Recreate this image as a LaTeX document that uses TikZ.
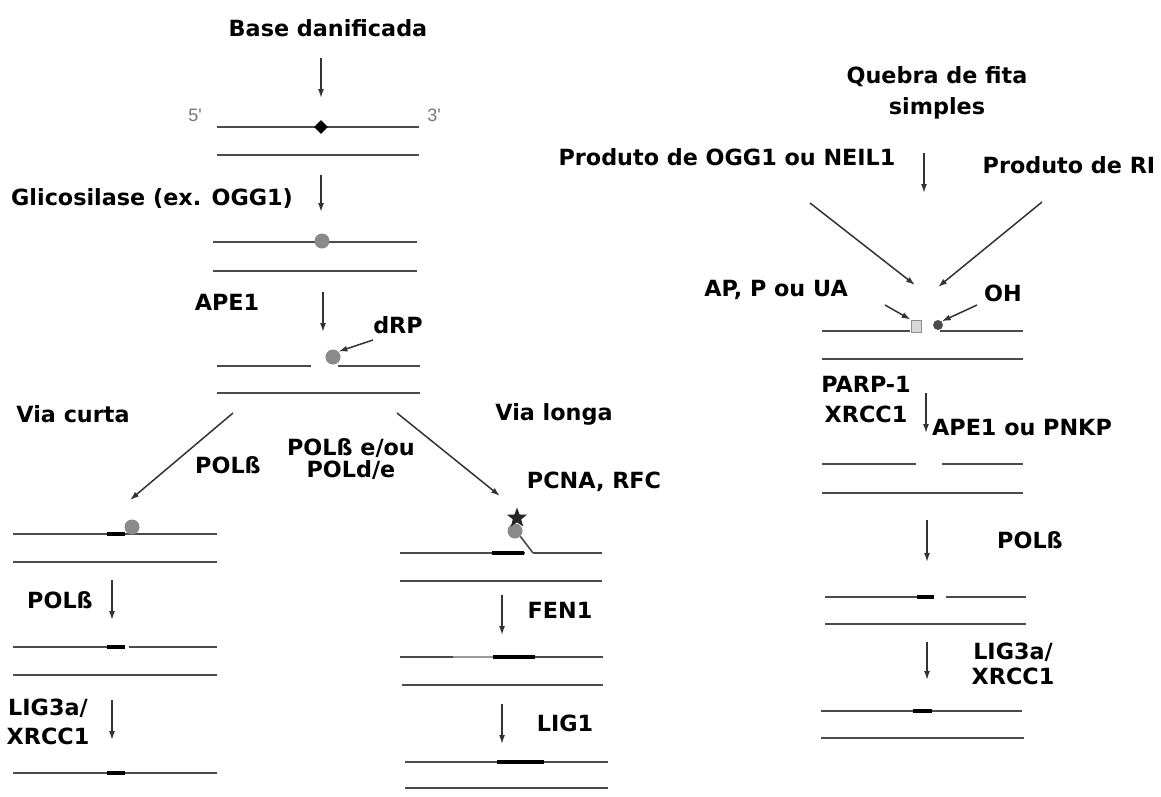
\documentclass[tikz,border=0pt]{standalone}
\usepackage{fontspec}
\setmainfont{DejaVu Sans}
\newfontfamily\primefont{Liberation Sans}
\usetikzlibrary{arrows.meta,shapes.geometric}
\definecolor{strandgray}{HTML}{4A4A4A}
\definecolor{arrowgray}{HTML}{333333}
\definecolor{dotgray}{HTML}{8A8A8A}
\definecolor{sqgray}{HTML}{D8D8D8}
\definecolor{primegray}{HTML}{777777}
\newcommand\lblfont{\fontsize{22.3}{30}\selectfont\bfseries}
\tikzset{
  strand/.style={draw=strandgray, line width=1.6pt},
  patch/.style={draw=black, line width=4.5pt},
  lightpatch/.style={draw=black!40, line width=1.5pt},
  arr/.style={draw=arrowgray, line width=1.5pt, -{Latex[length=9pt,width=6pt]}},
  lbl/.style={font=\lblfont, text=black, align=center, inner sep=0pt},
  prime/.style={font=\primefont\fontsize{18}{18}\selectfont, text=primegray, inner sep=0pt},
  gdot/.style={circle, fill=dotgray, inner sep=0pt, minimum size=15pt},
}
\begin{document}
\begin{tikzpicture}[x=1pt,y=-1pt]
\path[use as bounding box, fill=white] (0,0) rectangle (1161,796);

% ---------------- left / top column ----------------
\node[lbl] (base) at (328,28) {Base danificada};
\coordinate (a1s) at (321,58); \coordinate (a1e) at (321,98);
\draw[arr] (a1s) -- (a1e);
\node[prime] (p5) at (195,115) {5'};
\node[prime] (p3) at (434,115) {3'};
\draw[strand] (217,127) -- (419,127);
\node[diamond, fill=black, inner sep=0pt, minimum size=14pt] (dmg) at (321,127) {};
\draw[strand] (217,155) -- (419,155);

\node[lbl] (glic) at (152,198) {Glicosilase (ex. OGG1)};
\coordinate (a2s) at (321,175); \coordinate (a2e) at (321,212);
\draw[arr] (a2s) -- (a2e);
\draw[strand] (213,242) -- (417,242);
\node[gdot] (ap1) at (322,241) {};
\draw[strand] (213,271) -- (417,271);

\node[lbl] (ape1) at (227,302) {APE1};
\coordinate (a3s) at (323,292); \coordinate (a3e) at (323,332);
\draw[arr] (a3s) -- (a3e);
\node[lbl] (drp) at (398,325) {dRP};
\draw[strand] (217,366) -- (311,366);
\draw[strand] (338,366) -- (420,366);
\node[gdot] (drpdot) at (333,357) {};
\coordinate (drps) at (373,340);
\draw[arr] (drps) -- (drpdot.north east);
\draw[strand] (217,393) -- (420,393);

% ---------------- short path ----------------
\node[lbl] (viacurta) at (73,414) {Via curta};
\coordinate (scs) at (233,413); \coordinate (sce) at (130,500);
\draw[arr] (scs) -- (sce);
\node[lbl] (polb1) at (228,465) {POLß};
\draw[strand] (13,534) -- (217,534);
\draw[patch] (107,534) -- (125,534);
\node[gdot] (scdot) at (132,527) {};
\draw[strand] (13,562) -- (217,562);

\node[lbl] (polb2) at (60,600) {POLß};
\coordinate (a4s) at (112,580); \coordinate (a4e) at (112,620);
\draw[arr] (a4s) -- (a4e);
\draw[strand] (13,647) -- (125,647);
\draw[strand] (129,647) -- (217,647);
\draw[patch] (107,647) -- (125,647);
\draw[strand] (13,675) -- (217,675);

\node[lbl, font=\fontsize{22.3}{29}\selectfont\bfseries] (lig3l) at (48,722) {LIG3a/\\XRCC1};
\coordinate (a5s) at (112,700); \coordinate (a5e) at (112,740);
\draw[arr] (a5s) -- (a5e);
\draw[strand] (13,773) -- (217,773);
\draw[patch] (107,773) -- (125,773);

% ---------------- long path ----------------
\node[lbl] (vialonga) at (554,414) {Via longa};
\node[lbl, font=\fontsize{22.3}{22}\selectfont\bfseries] (polbe) at (351,459) {POLß e/ou\\POLd/e};
\coordinate (lps) at (397,413); \coordinate (lpe) at (500,496);
\draw[arr] (lps) -- (lpe);
\node[lbl] (pcna) at (594,482) {PCNA, RFC};
\draw[strand] (400,553) -- (525,553);
\draw[patch] (492,553) -- (524,553);
\draw[strand] (533,553) -- (602,553);
\node[gdot] (lpdot) at (515,531) {};
\coordinate (flapend) at (533,553);
\draw[strand] (lpdot.south east) -- (flapend);
\node[star, star points=5, star point ratio=2.4, fill=black!85, inner sep=0pt, minimum size=21pt] (pcnastar) at (517,518) {};
\draw[strand] (400,581) -- (602,581);

\node[lbl] (fen1) at (560,610) {FEN1};
\coordinate (a6s) at (502,595); \coordinate (a6e) at (502,635);
\draw[arr] (a6s) -- (a6e);
\draw[strand] (400,657) -- (453,657);
\draw[lightpatch] (453,657) -- (493,657);
\draw[patch] (493,657) -- (535,657);
\draw[strand] (535,657) -- (603,657);
\draw[strand] (402,685) -- (603,685);

\node[lbl] (lig1) at (565,723) {LIG1};
\coordinate (a7s) at (502,704); \coordinate (a7e) at (502,744);
\draw[arr] (a7s) -- (a7e);
\draw[strand] (405,762) -- (608,762);
\draw[patch] (497,762) -- (544,762);
\draw[strand] (405,788) -- (608,788);

% ---------------- right column ----------------
\node[lbl, font=\fontsize{22.3}{31}\selectfont\bfseries] (quebra) at (937,93) {Quebra de fita\\simples};
\node[lbl] (prodogg) at (727,157) {Produto de OGG1 ou NEIL1};
\node[lbl] (prodri) at (1069,165) {Produto de RI};
\coordinate (a8s) at (924,153); \coordinate (a8e) at (924,193);
\draw[arr] (a8s) -- (a8e);
\coordinate (dls) at (810,203); \coordinate (dle) at (915,285);
\draw[arr] (dls) -- (dle);
\coordinate (drs) at (1042,202); \coordinate (dre) at (938,287);
\draw[arr] (drs) -- (dre);

\node[lbl] (apua) at (776,290) {AP, P ou UA};
\node[lbl] (oh) at (1003,293) {OH};
\draw[strand] (822,331) -- (910,331);
\draw[strand] (940,331) -- (1023,331);
\node[draw=black!45, fill=sqgray, line width=0.8pt, inner sep=0pt, minimum width=10pt, minimum height=12pt] (sq) at (916,326) {};
\node[circle, fill=black!70, inner sep=0pt, minimum size=10pt] (ohdot) at (938,325) {};
\coordinate (sas) at (885,305);
\draw[arr] (sas) -- (sq.north west);
\coordinate (sbs) at (977,305);
\draw[arr] (sbs) -- (ohdot.north east);
\draw[strand] (822,359) -- (1023,359);

\node[lbl, font=\fontsize{22.3}{30}\selectfont\bfseries] (parp) at (866,400) {PARP-1\\XRCC1};
\node[lbl] (apepnkp) at (1022,428) {APE1 ou PNKP};
\coordinate (a9s) at (926,393); \coordinate (a9e) at (926,433);
\draw[arr] (a9s) -- (a9e);
\draw[strand] (822,464) -- (916,464);
\draw[strand] (942,464) -- (1023,464);
\draw[strand] (822,493) -- (1023,493);

\node[lbl] (polb3) at (1030,540) {POLß};
\coordinate (a10s) at (927,520); \coordinate (a10e) at (927,562);
\draw[arr] (a10s) -- (a10e);
\draw[strand] (825,597) -- (934,597);
\draw[patch] (917,597) -- (934,597);
\draw[strand] (946,597) -- (1026,597);
\draw[strand] (825,624) -- (1026,624);

\node[lbl, font=\fontsize{22.3}{25}\selectfont\bfseries] (lig3r) at (1013,664) {LIG3a/\\XRCC1};
\coordinate (a11s) at (927,642); \coordinate (a11e) at (927,680);
\draw[arr] (a11s) -- (a11e);
\draw[strand] (821,711) -- (1022,711);
\draw[patch] (913,711) -- (932,711);
\draw[strand] (821,738) -- (1024,738);
\end{tikzpicture}
\end{document}
